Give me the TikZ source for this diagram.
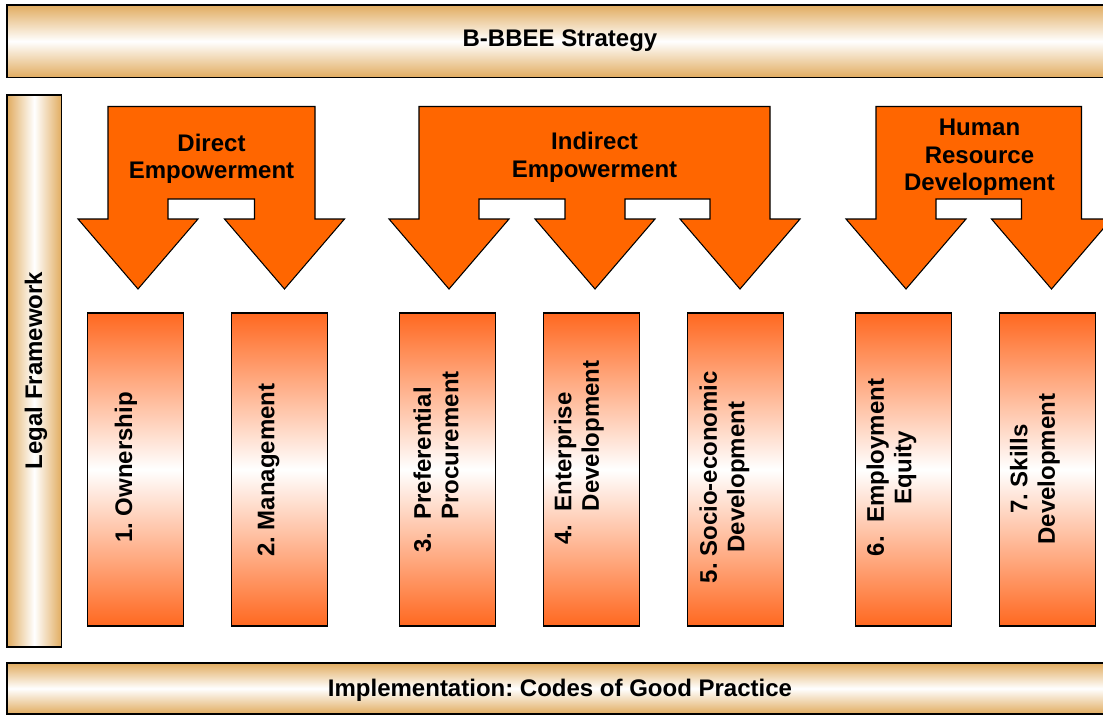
\documentclass[tikz,border=0pt]{standalone}
\usepackage{fontspec}
\setmainfont{Liberation Sans}
\frenchspacing
\definecolor{bargold}{RGB}{225,172,96}
\definecolor{arroworange}{RGB}{255,102,0}
\definecolor{pillarorange}{RGB}{255,104,32}
\tikzset{
	bar/.style={draw=black, line width=1.3pt, top color=bargold, bottom color=bargold, middle color=white},
	sidebar/.style={draw=black, line width=1.3pt, left color=bargold, right color=bargold, middle color=white},
	pillar/.style={draw=black, line width=1.1pt, top color=pillarorange, bottom color=pillarorange, middle color=white},
	blockarrow/.style={draw=black, line width=0.8pt, fill=arroworange, line join=miter},
	lbl/.style={font=\bfseries\fontsize{18}{20.6}\selectfont, inner sep=0pt, align=center},
}

\begin{document}
\begin{tikzpicture}[x=0.75pt,y=-0.75pt]
		\useasboundingbox (0,0) rectangle (1103,715);
		% frame: strategy on top, codes at the bottom, legal framework on the side
		\draw [bar] (7,5) rectangle (1113,77.5);
		\node [lbl] (strategy) at (560,41) {B-BBEE Strategy};
		\draw [bar] (7,663) rectangle (1113,714);
		\node [lbl] (codes) at (560,690) {Implementation: Codes of Good Practice};
		\draw [sidebar] (7,95) rectangle (61.5,647);
		\node [lbl, rotate=90] (legal) at (36,370.5) {Legal Framework};
		% block arrows
		\draw [blockarrow] (108,106.5) -- (315,106.5) -- (315,219) -- (344.5,219) -- (284.5,289) -- (224.5,219) -- (254.5,219) -- (254.5,199) -- (168,199) -- (168,219) -- (198,219) -- (138,289) -- (78,219) -- (108,219) -- cycle;
		\node [lbl] (direct) at (211.5,159) {Direct\\Empowerment};
		\draw [blockarrow] (419,106.5) -- (770,106.5) -- (770,219) -- (800,219) -- (740,289) -- (680,219) -- (710,219) -- (710,199) -- (625,199) -- (625,219) -- (655,219) -- (595,289) -- (535,219) -- (565,219) -- (565,199) -- (479,199) -- (479,219) -- (509,219) -- (449,289) -- (389,219) -- (419,219) -- cycle;
		\node [lbl] (indirect) at (594.5,157.5) {Indirect\\Empowerment};
		\draw [blockarrow] (876,106.5) -- (1081.5,106.5) -- (1081.5,219) -- (1111.5,219) -- (1051.5,289) -- (991.5,219) -- (1021.5,219) -- (1021.5,199) -- (936,199) -- (936,219) -- (966,219) -- (906,289) -- (846,219) -- (876,219) -- cycle;
		\node [lbl] (hrd) at (979.5,157.5) {Human\\Resource\\Development};
		% the seven elements
		\draw [pillar] (87.3,313) rectangle (183.3,626);
		\node [lbl, rotate=90] (own) at (126,467.5) {1. Ownership};
		\draw [pillar] (231.3,313) rectangle (327.3,626);
		\node [lbl, rotate=90] (mgmt) at (268.5,470) {2. Management};
		\draw [pillar] (399.3,313) rectangle (495.3,626);
		\node [lbl, rotate=90, align=left] (proc) at (436,462) {3.\ \ Preferential\\\phantom{3.\ \ }Procurement};
		\draw [pillar] (543.3,313) rectangle (639.3,626);
		\node [lbl, rotate=90, align=left] (entdev) at (579,452.5) {4.\ \ Enterprise\\\phantom{4.\ \ }Development};
		\draw [pillar] (687.3,313) rectangle (783.3,626);
		\node [lbl, rotate=90] (sed) at (724.5,477) {5. Socio-economic\\Development};
		\draw [pillar] (855.3,313) rectangle (951.3,626);
		\node [lbl, rotate=90] (ee) at (891.5,467.5) {6.\ \ Employment\\Equity};
		\draw [pillar] (999.3,313) rectangle (1095.3,626);
		\node [lbl, rotate=90] (skills) at (1035,469) {7. Skills\\Development};
	\end{tikzpicture}
\end{document}
